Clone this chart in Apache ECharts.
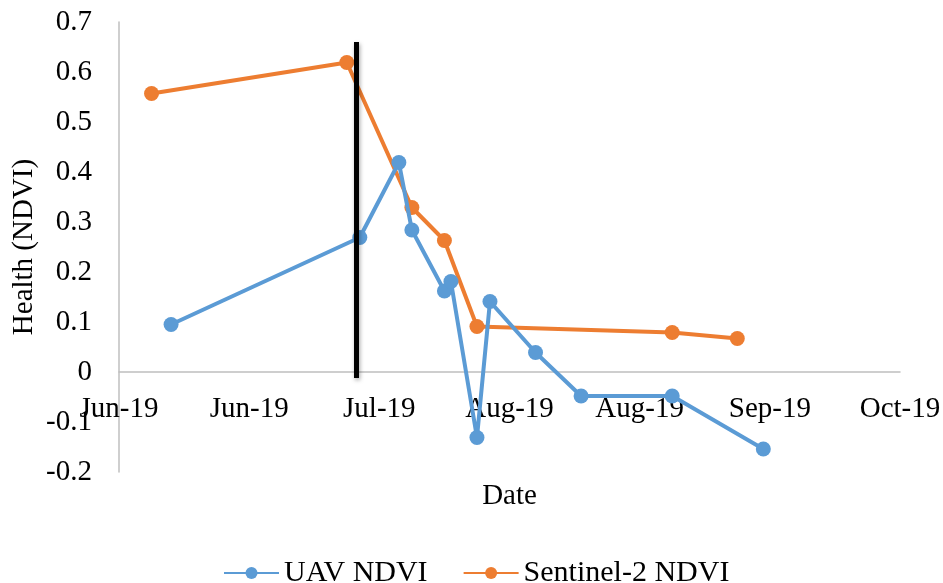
<!DOCTYPE html>
<html>
<head>
<meta charset="utf-8">
<script src="https://cdn.jsdelivr.net/npm/echarts@6/dist/echarts.min.js"></script>
<style>
  html, body { margin: 0; padding: 0; background: #fff; }
  #chart { width: 943px; height: 583px; }
</style>
</head>
<body>
<div id="chart"></div>
<script>
// Axis window: 120 days starting 5 June 2019, a label every 20 days
const axisStartDate = '2019-06-05';
const axisSpanDays = 120;
const tickStepDays = 20;

// UAV flights
const uavDates = ['2019-06-13', '2019-07-12', '2019-07-18', '2019-07-20', '2019-07-25', '2019-07-26',
                  '2019-07-30', '2019-08-01', '2019-08-08', '2019-08-15', '2019-08-29', '2019-09-12'];
const uavNdvi = [0.095, 0.269, 0.419, 0.284, 0.162, 0.181, -0.131, 0.141, 0.039, -0.048, -0.048, -0.154];

// Sentinel-2 acquisitions
const s2Dates = ['2019-06-10', '2019-07-10', '2019-07-20', '2019-07-25', '2019-07-30', '2019-08-29', '2019-09-08'];
const s2Ndvi = [0.557, 0.619, 0.329, 0.263, 0.091, 0.079, 0.067];

// Event marker (vertical bar)
const eventDate = '2019-07-11T12:00:00Z';
const eventRange = [-0.012, 0.66];

const yMin = -0.2, yMax = 0.7, yStep = 0.1;
const monthNames = ['Jan','Feb','Mar','Apr','May','Jun','Jul','Aug','Sep','Oct','Nov','Dec'];

const DAY = 86400000;
const base = Date.parse(axisStartDate + 'T00:00:00Z');
const toDay = s => (Date.parse(s.length === 10 ? s + 'T00:00:00Z' : s) - base) / DAY;
const dayLabel = d => {
  const dt = new Date(base + d * DAY);
  return monthNames[dt.getUTCMonth()] + '-' + String(dt.getUTCFullYear() % 100).padStart(2, '0');
};

const pairs = (dates, vals) => dates.map((d, i) => [toDay(d), vals[i]]);
const FONT = "'Liberation Serif', 'Times New Roman', serif";
const BLUE = '#5B9BD5', ORANGE = '#ED7D31';

// plot box
const gridTop = 22, gridBottom = 111;
const plotH = 583 - gridTop - gridBottom;
// lift the date axis so it runs along the zero line
const zeroLift = plotH * (0 - yMin) / (yMax - yMin);

const chart = echarts.init(document.getElementById('chart'), null, { renderer: 'canvas' });
const eventX = toDay(eventDate);

chart.setOption({
  animation: false,
  backgroundColor: '#ffffff',
  textStyle: { fontFamily: FONT, color: '#000' },
  grid: { left: 119, right: 43, top: gridTop, bottom: gridBottom, containLabel: false, outerBoundsMode: 'none' },
  xAxis: {
    type: 'value',
    min: 0,
    max: axisSpanDays,
    interval: tickStepDays,
    offset: -zeroLift,
    name: 'Date',
    nameLocation: 'middle',
    nameGap: 110,
    nameTextStyle: { fontFamily: FONT, fontSize: 29, color: '#000' },
    axisLine: { onZero: false, lineStyle: { color: '#BFBFBF', width: 1.5 } },
    axisTick: { show: false },
    splitLine: { show: false },
    axisLabel: {
      fontFamily: FONT, fontSize: 29, color: '#000', margin: 23,
      showMinLabel: true, showMaxLabel: true, hideOverlap: false,
      formatter: v => dayLabel(v)
    }
  },
  yAxis: {
    type: 'value',
    min: yMin,
    max: yMax,
    interval: yStep,
    name: 'Health (NDVI)',
    nameLocation: 'middle',
    nameGap: 80,
    nameMoveOverlap: false,
    nameTextStyle: { fontFamily: FONT, fontSize: 29, color: '#000' },
    axisLine: { show: true, onZero: false, lineStyle: { color: '#BFBFBF', width: 1.5 } },
    axisTick: { show: false },
    splitLine: { show: false },
    axisLabel: {
      fontFamily: FONT, fontSize: 29, color: '#000', margin: 27,
      formatter: v => String(parseFloat(v.toFixed(1)))
    }
  },
  legend: {
    bottom: -10,
    left: 218,
    data: ['UAV NDVI', 'Sentinel-2 NDVI'],
    itemWidth: 55,
    itemHeight: 15,
    itemGap: 35,
    textStyle: { fontFamily: FONT, fontSize: 30, color: '#000' }
  },
  series: [
    {
      name: 'UAV NDVI',
      type: 'line',
      data: pairs(uavDates, uavNdvi),
      symbol: 'circle',
      symbolSize: 15,
      lineStyle: { color: BLUE, width: 4 },
      itemStyle: { color: BLUE },
      z: 3
    },
    {
      name: 'Sentinel-2 NDVI',
      type: 'line',
      data: pairs(s2Dates, s2Ndvi),
      symbol: 'circle',
      symbolSize: 15,
      lineStyle: { color: ORANGE, width: 4 },
      itemStyle: { color: ORANGE },
      z: 2,
      markLine: {
        silent: true,
        symbol: ['none', 'none'],
        label: { show: false },
        lineStyle: {
          type: 'solid', color: '#000', width: 5,
          shadowColor: 'rgba(0,0,0,0.35)', shadowBlur: 4, shadowOffsetX: 1, shadowOffsetY: 2
        },
        data: [[
          { coord: [eventX, eventRange[0]] },
          { coord: [eventX, eventRange[1]] }
        ]],
        z: 4
      }
    }
  ]
});
</script>
</body>
</html>
